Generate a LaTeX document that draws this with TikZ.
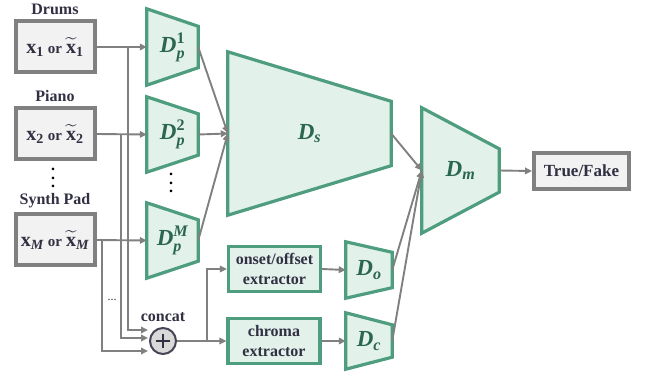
\documentclass[tikz,border=0pt]{standalone}
\usepackage{amsmath}
\usepackage{fontspec}
\setmainfont{Liberation Serif}
\usetikzlibrary{arrows.meta,positioning,calc,backgrounds}
\definecolor{jade}{RGB}{78,157,126}
\definecolor{mint}{RGB}{227,241,235}
\definecolor{pine}{RGB}{42,102,80}
\definecolor{steel}{RGB}{128,128,128}
\definecolor{paper}{RGB}{242,242,242}
\definecolor{ink}{RGB}{48,48,66}
\tikzset{
  >={Triangle[length=7pt,width=6.5pt]},
  flow/.style={->,line width=1.9pt,draw=steel,color=steel},
  trap/.style={draw=jade,fill=mint,line width=3.2pt,line join=miter},
  disc/.style={inner sep=0pt,text=pine,font=\fontsize{23}{26}\selectfont},
  inbox/.style={draw=steel,fill=paper,line width=4pt,minimum width=79pt,minimum height=51pt,
    text=ink,font=\fontsize{20}{22}\selectfont\bfseries,inner sep=0pt},
  lbl/.style={font=\fontsize{16}{18}\selectfont\bfseries,text=ink},
  extr/.style={draw=jade,fill=mint,line width=3.2pt,minimum width=92pt,minimum height=45pt,
    align=center,font=\fontsize{16}{20}\selectfont\bfseries,text=ink,inner sep=1pt},
  sum/.style={circle,draw=ink!90,fill=black!15,line width=2pt,minimum size=26pt,inner sep=0pt,
    path picture={\draw[ink,line width=1.6pt]
      ($(path picture bounding box.center)+(-7,0)$) -- ++(14,0)
      ($(path picture bounding box.center)+(0,-7)$) -- ++(0,14);}},
  dots/.style={font=\fontsize{16}{8.5}\selectfont\bfseries,align=center,inner sep=0pt,text=black},
}
\newcommand\ortext{{\fontsize{15}{16}\selectfont or}}
\newcommand\bi[1]{\text{\bfseries\itshape #1}}
\newcommand\bu[1]{\text{\bfseries #1}}
% input symbol x_i or tilde x_i
\newcommand\xin[1]{$\bu{x}_{#1}$\hspace{4pt}\ortext\hspace{4pt}$\boldsymbol{\widetilde{\bu{x}}}_{#1}$}
% trapezoid behind a named node: node name, inset of the right side
\newcommand\trapez[2]{%
  \begin{scope}[on background layer]
    \draw[trap] (#1.north west) -- (#1.south west) -- ([yshift=#2pt]#1.south east)
      -- ([yshift=-#2pt]#1.north east) -- cycle;
  \end{scope}}

\begin{document}
\begin{tikzpicture}[x=1pt,y=-1pt]
  \useasboundingbox (0,0) rectangle (649,377);
  % inputs
  \node[inbox] (drums) at (55,47) {\xin{\bu{1}}};
  \node[lbl,above=1pt of drums] (ldrums) {Drums};
  \node[inbox] (piano) at (55,134) {\xin{\bu{2}}};
  \node[lbl,above=1pt of piano] (lpiano) {Piano};
  \node[dots] (vd1) at (53,178) {.\\.\\.};
  \node[inbox] (synth) at (55,240) {\xin{\bi{M}}};
  \node[lbl,above=1pt of synth] (lsynth) {Synth Pad};
  % part discriminators
  \node[disc,minimum width=51pt,minimum height=76pt] (dp1) at (172.5,47) {$\bi{D}_{\bi{p}}^{\bu{1}}$};
  \trapez{dp1}{17.5}
  \node[disc,minimum width=51pt,minimum height=75pt] (dp2) at (172.5,134.5) {$\bi{D}_{\bi{p}}^{\bu{2}}$};
  \trapez{dp2}{17}
  \node[dots] (vd2) at (171,183) {.\\.\\.};
  \node[disc,minimum width=51pt,minimum height=75pt] (dpm) at (172.5,240.5) {$\bi{D}_{\bi{p}}^{\bi{M}}$};
  \trapez{dpm}{17}
  \node[disc,minimum width=163pt,minimum height=163pt] (ds) at (309.5,133.5) {$\bi{D}_{\bi{s}}$};
  \trapez{ds}{49.5}
  \node[disc,minimum width=77pt,minimum height=125pt] (dm) at (460.5,170.5) {$\bi{D}_{\bi{m}}$};
  \trapez{dm}{41}
  % extractors
  \node[sum] (sum) at (163,341) {};
  \node[lbl,above=2pt of sum] (lsum) {concat};
  \node[extr] (onset) at (274.5,269) {onset/offset\\extractor};
  \node[extr] (chroma) at (274,341) {chroma\\extractor};
  \node[disc,minimum width=46pt,minimum height=56pt] (do) at (369,270) {$\bi{D}_{\bi{o}}$};
  \trapez{do}{10.5}
  \node[disc,minimum width=46pt,minimum height=56pt] (dc) at (369,341) {$\bi{D}_{\bi{c}}$};
  \trapez{dc}{12}
  \node[inbox,minimum width=95pt,minimum height=36pt,font=\fontsize{17}{20}\selectfont\bfseries] (tf) at (581.5,171) {True/Fake};
  \node[font=\fontsize{12}{12}\selectfont,text=ink] (skip) at (112,300) {...};
  % connectors
  \coordinate (jd) at (128,47);
  \coordinate (jp) at (121,134);
  \coordinate (js) at (102,240);
  \coordinate (jc) at (207,341);
  \draw[flow] (drums.east) -- (dp1.west);
  \draw[flow] (piano.east) -- (dp2.west);
  \draw[flow] (synth.east) -- (dpm.west);
  \draw[flow] (jd) |- ($(sum.west)+(-1,-11)$);
  \draw[flow] (jp) |- ($(sum.west)+(-1,-3)$);
  \draw[flow] (js) |- ($(sum.west)+(-1,10)$);
  \draw[flow] (sum.east) -- (chroma.west);
  \draw[flow] (jc) |- (onset.west);
  \draw[flow] (onset.east) -- (do.west);
  \draw[flow] (chroma.east) -- (dc.west);
  \draw[flow] (dp1.east) -- (ds.west);
  \draw[flow] (dp2.east) -- (ds.west);
  \draw[flow] (dpm.east) -- (ds.west);
  \draw[flow] (ds.east) -- (dm.west);
  \draw[flow] (do.east) -- (dm.west);
  \draw[flow] (dc.east) -- (dm.west);
  \draw[flow] (dm.east) -- (tf.west);
\end{tikzpicture}
\end{document}
